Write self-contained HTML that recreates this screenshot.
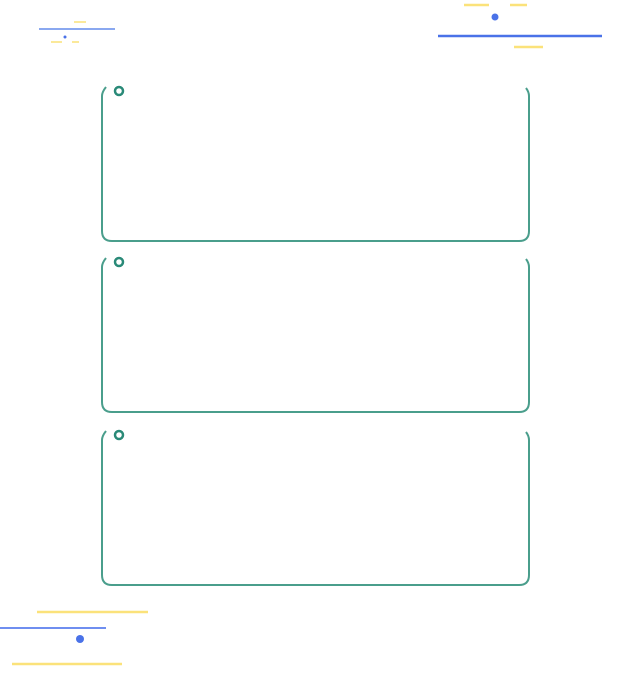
<!DOCTYPE html>
<html><head><style>body{margin:0;background:#fff;width:640px;height:668px;overflow:hidden}</style></head><body>
<svg width="640" height="668" xmlns="http://www.w3.org/2000/svg">
<g stroke-linecap="butt">
<line x1="39" y1="29" x2="115" y2="29" stroke="#8aa8f0" stroke-width="2"/>
<line x1="74" y1="22" x2="86" y2="22" stroke="#fbe99a" stroke-width="2"/>
<circle cx="65" cy="37" r="1.5" fill="#4a72e8"/>
<line x1="51" y1="42" x2="62" y2="42" stroke="#fbe99a" stroke-width="2"/>
<line x1="72" y1="42" x2="79" y2="42" stroke="#fbe99a" stroke-width="2"/>
<line x1="464" y1="5" x2="489" y2="5" stroke="#fbe27a" stroke-width="2.5"/>
<line x1="510" y1="5" x2="527" y2="5" stroke="#fbe27a" stroke-width="2.5"/>
<circle cx="495" cy="17" r="3.5" fill="#4a72e8"/>
<line x1="438" y1="36" x2="602" y2="36" stroke="#4a72e8" stroke-width="2.5"/>
<line x1="514" y1="47" x2="543" y2="47" stroke="#fbe27a" stroke-width="2.5"/>
<line x1="37" y1="612" x2="148" y2="612" stroke="#fbe27a" stroke-width="2.5"/>
<line x1="0" y1="628" x2="106" y2="628" stroke="#6f8ef0" stroke-width="2"/>
<circle cx="80" cy="639" r="4" fill="#4a72e8"/>
<line x1="12" y1="664" x2="122" y2="664" stroke="#fbe27a" stroke-width="2.5"/>
</g>
<g fill="none" stroke="#4a9e8c" stroke-width="2">
<path d="M106 87 Q102 92 102 96 V231 Q102 241 112 241 H519 Q529 241 529 231 V96 Q529 92 526 88"/>
<path d="M106 258 Q102 263 102 267 V402 Q102 412 112 412 H519 Q529 412 529 402 V267 Q529 263 526 259"/>
<path d="M106 431 Q102 436 102 440 V575 Q102 585 112 585 H519 Q529 585 529 575 V440 Q529 436 526 432"/>
<circle cx="119" cy="91" r="4" stroke="#2a8a78" stroke-width="2.5"/>
<circle cx="119" cy="262" r="4" stroke="#2a8a78" stroke-width="2.5"/>
<circle cx="119" cy="435" r="4" stroke="#2a8a78" stroke-width="2.5"/>
</g>
</svg>
</body></html>
